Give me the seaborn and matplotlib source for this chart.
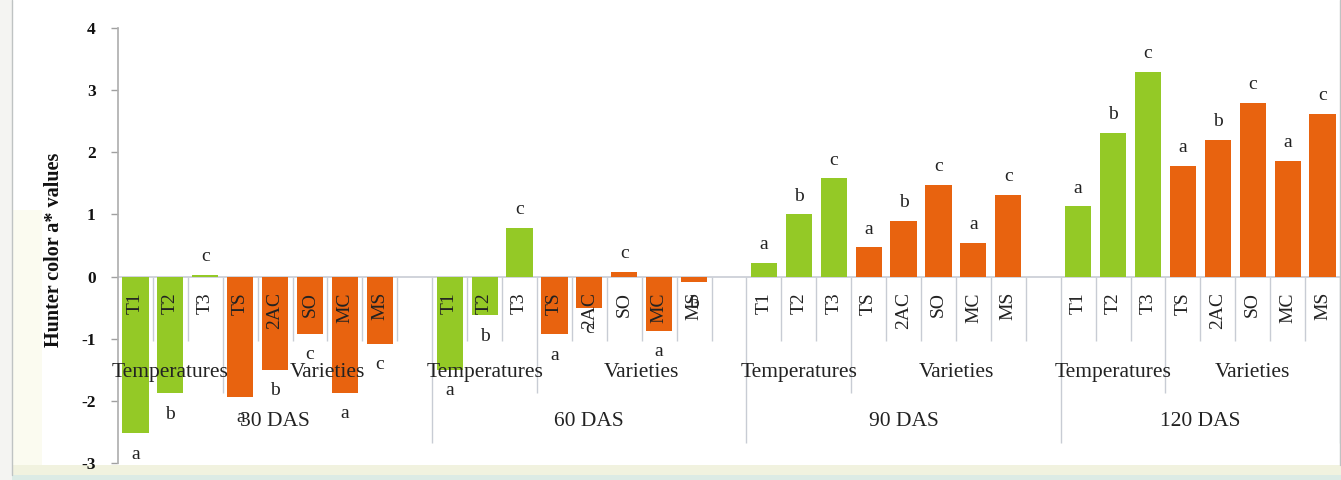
import matplotlib
matplotlib.use("Agg")
import matplotlib.pyplot as plt
import seaborn as sns
import pandas as pd
import numpy as np
from matplotlib.patches import Rectangle

# ---------------- data ----------------
stages = ["30 DAS", "60 DAS", "90 DAS", "120 DAS"]
treatments = ["T1", "T2", "T3", "TS", "2AC", "SO", "MC", "MS"]
kinds = ["Temperatures"] * 3 + ["Varieties"] * 5

values_30 = [-2.52, -1.88, 0.03, -1.93, -1.50, -0.92, -1.87, -1.08]
values_60 = [-1.50, -0.62, 0.78, -0.93, -0.50, 0.07, -0.87, -0.09]
values_90 = [0.22, 1.00, 1.58, 0.47, 0.90, 1.48, 0.54, 1.31]
values_120 = [1.13, 2.31, 3.30, 1.78, 2.20, 2.79, 1.86, 2.62]

letters_30 = ["a", "b", "c", "a", "b", "c", "a", "c"]
letters_60 = ["a", "b", "c", "a", "c", "c", "a", "b"]
letters_90 = ["a", "b", "c", "a", "b", "c", "a", "c"]
letters_120 = ["a", "b", "c", "a", "b", "c", "a", "c"]

all_values = [values_30, values_60, values_90, values_120]
all_letters = [letters_30, letters_60, letters_90, letters_120]

green = "#94C926"
orange = "#E8630F"
line_gray = "#C8CCD4"

# ---------------- build table ----------------
rows = []
order = []
for g, st in enumerate(stages):
    for t, tr in enumerate(treatments):
        key = f"{st}|{tr}"
        order.append(key)
        rows.append(dict(slot=key, value=all_values[g][t], kind=kinds[t],
                         letter=all_letters[g][t], label=tr))
    if g < len(stages) - 1:
        order.append(f"gap{g}")
df = pd.DataFrame(rows)

# ---------------- figure ----------------
sns.set_theme(style="white")
plt.rcParams["font.family"] = ["Liberation Serif", "DejaVu Serif"]

fig = plt.figure(figsize=(13.41, 4.80), dpi=100)
W, H = 1341, 480
# background decorations
bg = dict(transform=fig.transFigure, edgecolor="none", zorder=-5)
fig.patches.append(Rectangle((0, 0), 1, 15 / H, facecolor="#F1F2DF", **bg))
fig.patches.append(Rectangle((0, 0), 1, 5 / H, facecolor="#DCEBE5", **bg))
fig.patches.append(Rectangle((0, 0), 12 / W, 1, facecolor="#F4F4F2", **bg))
fig.patches.append(Rectangle((12 / W, 15 / H), 30 / W, 255 / H, facecolor="#FBFBF0", **bg))
fig.lines.append(plt.Line2D([12 / W, 12 / W], [5 / H, 1], transform=fig.transFigure,
                            color="#BFC3C3", lw=1, zorder=-4))
fig.lines.append(plt.Line2D([1339.5 / W, 1339.5 / W], [15 / H, 1], transform=fig.transFigure,
                            color="#BFC3C3", lw=1, zorder=-4))

x0, x1 = 118 / W, 1340 / W
ytop, ybot = 28 / H, 463 / H
ax = fig.add_axes([x0, 1 - ybot, x1 - x0, ybot - ytop])
ax.set_zorder(2)
ax.set_facecolor("none")

sns.barplot(data=df, x="slot", y="value", hue="kind", order=order,
            hue_order=["Temperatures", "Varieties"],
            palette={"Temperatures": green, "Varieties": orange},
            dodge=False, width=0.75, saturation=1, legend=False, ax=ax, zorder=3,
            edgecolor="none")

ax.set_xlim(-0.5, len(order) - 0.5)
ax.set_ylim(-3, 4)
ax.set_xticks([])
ax.set_xlabel("")
ax.set_yticks(range(-3, 5))
ax.set_yticklabels([str(v) for v in range(-3, 5)], fontweight="bold", fontsize=12.5)
ax.tick_params(axis="y", direction="out", length=5, width=1, color="#A0A0A0",
               pad=11, left=True, labelcolor="#111111")
for s in ["top", "right", "bottom"]:
    ax.spines[s].set_visible(False)
ax.spines["left"].set_color("#B0B0B0")
ax.set_ylabel("Hunter color a* values", fontweight="bold", fontsize=14.5, color="#111111")
ax.yaxis.set_label_coords(-0.044, 0.49)

# zero line
ax.axhline(0, color=line_gray, lw=1.2, zorder=2)

# positions
slot_pos = {k: i for i, k in enumerate(order)}
short_end, mid_end, long_end = -1.03, -1.87, -2.68
for g, st in enumerate(stages):
    start = slot_pos[f"{st}|T1"] - 0.5
    if g > 0:
        ax.vlines(start, long_end, 0, color=line_gray, lw=1, zorder=1)
    for t in range(1, 8):
        xb = start + t
        end = mid_end if t == 3 else short_end
        ax.vlines(xb, end, 0, color=line_gray, lw=1, zorder=1)
    if g < len(stages) - 1:
        ax.vlines(start + 8, short_end, 0, color=line_gray, lw=1, zorder=1)
    else:
        ax.vlines(start + 8, long_end, 0, color=line_gray, lw=1, zorder=1)

    ax.text(start + 1.5, -1.55, "Temperatures", ha="center", va="center",
            fontsize=15.5, color="#222222", zorder=4)
    var_center = start + (6.0 if g < len(stages) - 1 else 5.5)
    ax.text(var_center, -1.55, "Varieties", ha="center", va="center",
            fontsize=15.5, color="#222222", zorder=4)
    stage_center = start + (4.5 if g < len(stages) - 1 else 4.0)
    ax.text(stage_center, -2.34, st, ha="center", va="center",
            fontsize=15.5, color="#222222", zorder=4)

# tick labels and significance letters
for _, r in df.iterrows():
    xp = slot_pos[r["slot"]]
    ax.text(xp, -0.25, r["label"], rotation=90, ha="center", va="top",
            fontsize=14, color="#222222", zorder=4)
    v = r["value"]
    if v >= 0:
        ax.annotate(r["letter"], (xp, v), xytext=(0, 7), textcoords="offset points",
                    ha="center", va="bottom", fontsize=14, color="#222222", zorder=4)
    else:
        ax.annotate(r["letter"], (xp, v), xytext=(0, -9), textcoords="offset points",
                    ha="center", va="top", fontsize=14, color="#222222", zorder=4)

fig.savefig("out.png", dpi=100)
